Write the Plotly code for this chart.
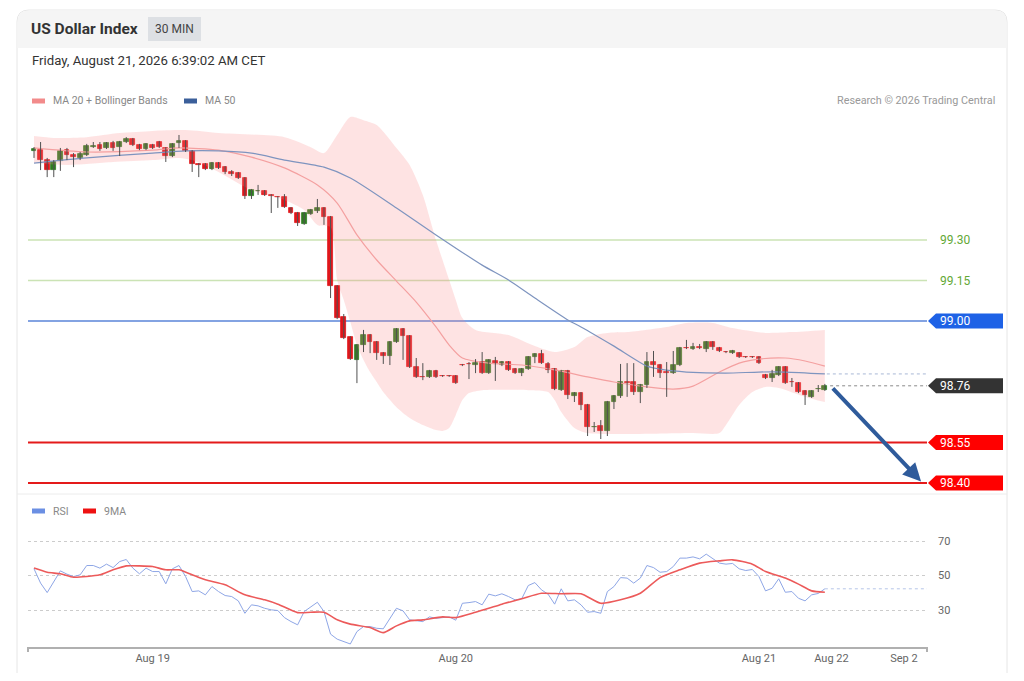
import plotly.graph_objects as go

# page adds an 8px body margin, so the figure is drawn 8px in from the window edge
PAGE_PAD = 8
W, H = 1024 - 2 * PAGE_PAD, 681 - 2 * PAGE_PAD

# ---- candle data (30 min bars) ----
opens = [99.630, 99.633, 99.596, 99.559, 99.593, 99.633, 99.615, 99.604, 99.615, 99.644,
         99.652, 99.641, 99.659, 99.644, 99.663, 99.674, 99.652, 99.637, 99.652, 99.663,
         99.641, 99.611, 99.659, 99.667, 99.630, 99.581, 99.581, 99.563, 99.585, 99.570,
         99.552, 99.548, 99.530, 99.463, 99.481, 99.481, 99.467, 99.459, 99.459, 99.419,
         99.400, 99.359, 99.396, 99.407, 99.419, 99.385, 99.130, 99.015, 98.941, 98.856,
         98.911, 98.948, 98.922, 98.881, 98.870, 98.922, 98.970, 98.944, 98.830, 98.793,
         98.793, 98.815, 98.796, 98.796, 98.796, 98.837, 98.841, 98.837, 98.848, 98.807,
         98.852, 98.837, 98.848, 98.822, 98.807, 98.822, 98.867, 98.878, 98.841, 98.822,
         98.744, 98.815, 98.722, 98.733, 98.689, 98.607, 98.611, 98.593, 98.700, 98.722,
         98.774, 98.774, 98.737, 98.763, 98.848, 98.837, 98.811, 98.807, 98.837, 98.900,
         98.896, 98.904, 98.896, 98.922, 98.900, 98.885, 98.881, 98.881, 98.867, 98.867,
         98.867, 98.800, 98.789, 98.800, 98.830, 98.774, 98.770, 98.741, 98.719, 98.748,
         98.744]
highs = [99.644, 99.663, 99.604, 99.596, 99.641, 99.641, 99.622, 99.626, 99.656, 99.663,
         99.663, 99.663, 99.667, 99.667, 99.681, 99.678, 99.656, 99.659, 99.656, 99.667,
         99.644, 99.659, 99.689, 99.670, 99.633, 99.585, 99.585, 99.589, 99.589, 99.574,
         99.559, 99.552, 99.533, 99.489, 99.504, 99.485, 99.470, 99.463, 99.470, 99.422,
         99.404, 99.404, 99.415, 99.452, 99.422, 99.389, 99.133, 99.026, 98.944, 98.915,
         98.967, 98.952, 98.926, 98.885, 98.926, 98.974, 98.974, 98.948, 98.863, 98.844,
         98.819, 98.819, 98.800, 98.800, 98.800, 98.841, 98.848, 98.859, 98.885, 98.859,
         98.867, 98.852, 98.852, 98.826, 98.826, 98.870, 98.881, 98.893, 98.848, 98.826,
         98.819, 98.819, 98.737, 98.737, 98.693, 98.626, 98.633, 98.704, 98.726, 98.841,
         98.844, 98.844, 98.767, 98.885, 98.889, 98.841, 98.848, 98.889, 98.904, 98.930,
         98.919, 98.915, 98.926, 98.926, 98.904, 98.889, 98.893, 98.885, 98.870, 98.870,
         98.870, 98.804, 98.819, 98.833, 98.833, 98.789, 98.774, 98.744, 98.744, 98.763,
         98.767]
lows = [99.604, 99.559, 99.533, 99.533, 99.556, 99.596, 99.570, 99.596, 99.611, 99.641,
        99.630, 99.637, 99.630, 99.611, 99.659, 99.648, 99.633, 99.633, 99.637, 99.641,
        99.589, 99.607, 99.641, 99.626, 99.552, 99.533, 99.559, 99.559, 99.563, 99.544,
        99.537, 99.526, 99.452, 99.452, 99.467, 99.463, 99.400, 99.419, 99.419, 99.396,
        99.352, 99.356, 99.393, 99.400, 99.356, 99.085, 99.007, 98.933, 98.856, 98.770,
        98.885, 98.881, 98.856, 98.841, 98.837, 98.919, 98.856, 98.826, 98.789, 98.781,
        98.789, 98.789, 98.793, 98.793, 98.767, 98.833, 98.785, 98.807, 98.804, 98.804,
        98.778, 98.833, 98.815, 98.804, 98.796, 98.819, 98.844, 98.841, 98.807, 98.744,
        98.741, 98.711, 98.700, 98.670, 98.574, 98.589, 98.563, 98.574, 98.674, 98.715,
        98.719, 98.726, 98.696, 98.752, 98.793, 98.789, 98.719, 98.804, 98.833, 98.896,
        98.893, 98.896, 98.885, 98.893, 98.885, 98.881, 98.878, 98.863, 98.863, 98.863,
        98.841, 98.785, 98.774, 98.796, 98.767, 98.756, 98.733, 98.689, 98.715, 98.737,
        98.741]
closes = [99.637, 99.596, 99.559, 99.589, 99.630, 99.615, 99.607, 99.619, 99.648, 99.648,
          99.637, 99.659, 99.641, 99.663, 99.674, 99.652, 99.637, 99.656, 99.641, 99.644,
          99.611, 99.656, 99.667, 99.630, 99.581, 99.578, 99.563, 99.585, 99.567, 99.552,
          99.544, 99.530, 99.463, 99.485, 99.482, 99.467, 99.463, 99.458, 99.422, 99.400,
          99.363, 99.400, 99.411, 99.419, 99.385, 99.130, 99.011, 98.937, 98.859, 98.911,
          98.948, 98.922, 98.881, 98.870, 98.922, 98.970, 98.944, 98.830, 98.793, 98.792,
          98.815, 98.793, 98.795, 98.795, 98.770, 98.836, 98.840, 98.844, 98.807, 98.856,
          98.841, 98.848, 98.819, 98.807, 98.822, 98.867, 98.878, 98.844, 98.819, 98.748,
          98.815, 98.726, 98.733, 98.689, 98.607, 98.609, 98.593, 98.700, 98.722, 98.774,
          98.770, 98.737, 98.763, 98.848, 98.837, 98.807, 98.808, 98.837, 98.900, 98.899,
          98.904, 98.900, 98.922, 98.904, 98.889, 98.884, 98.889, 98.867, 98.866, 98.866,
          98.844, 98.789, 98.804, 98.830, 98.770, 98.773, 98.737, 98.726, 98.741, 98.749,
          98.760]

# ---- indicators (sampled at bar positions) ----
band_up_x = [0, 3, 8, 13, 18, 23, 28, 38, 42, 44, 46, 48, 50, 52, 55, 57, 59, 61, 63, 64,
             65, 67, 72, 76, 79, 82, 84, 87, 90, 96, 99, 103, 106, 111, 115, 120]
band_up = [99.685, 99.678, 99.681, 99.696, 99.704, 99.707, 99.696, 99.681, 99.644, 99.622,
           99.689, 99.756, 99.744, 99.726, 99.641, 99.578, 99.467, 99.300, 99.152, 99.078,
           99.011, 98.967, 98.948, 98.907, 98.885, 98.904, 98.941, 98.956, 98.959, 98.978,
           98.993, 98.993, 98.974, 98.956, 98.959, 98.967]
band_lo_x = [0, 5, 12, 18, 22, 24, 28, 33, 38, 41, 43, 45, 46, 47, 48, 49, 50, 51, 52, 53,
             55, 57, 59, 61, 62, 63, 64, 65, 66, 68, 75, 78, 79, 80, 82, 84, 100, 104, 105, 107,
             109, 111, 113, 117, 120]
band_lo = [99.585, 99.578, 99.589, 99.596, 99.604, 99.596, 99.552, 99.485, 99.448, 99.411,
           99.356, 99.348, 99.152, 99.078, 98.996, 98.911, 98.856, 98.811, 98.774, 98.737,
           98.681, 98.641, 98.615, 98.596, 98.593, 98.604, 98.652, 98.707, 98.733, 98.744,
           98.744, 98.737, 98.707, 98.663, 98.604, 98.585, 98.585, 98.585, 98.615, 98.689,
           98.737, 98.756, 98.752, 98.719, 98.700]
ma20_x = [0, 8, 18, 22, 28, 33, 38, 43, 46, 49, 52, 55, 58, 61, 63, 65, 69, 74, 79, 84,
          88, 93, 97, 100, 104, 107, 110, 114, 117, 120]
ma20 = [99.641, 99.626, 99.633, 99.641, 99.633, 99.607, 99.567, 99.504, 99.437, 99.319,
        99.226, 99.148, 99.070, 98.978, 98.911, 98.863, 98.844, 98.837, 98.819, 98.793,
        98.774, 98.756, 98.748, 98.759, 98.811, 98.844, 98.859, 98.863, 98.852, 98.833]
ma50_x = [0, 8, 18, 23, 28, 33, 38, 44, 48, 55, 61, 68, 72, 76, 81, 83, 88, 93, 95, 97,
          99, 105, 110, 114, 120]
ma50 = [99.585, 99.604, 99.622, 99.630, 99.630, 99.622, 99.596, 99.570, 99.530, 99.419,
        99.319, 99.207, 99.152, 99.085, 99.004, 98.978, 98.907, 98.833, 98.822, 98.815,
        98.811, 98.807, 98.811, 98.811, 98.804]

rsi_x = list(range(0, 58)) + [59, 60, 61] + list(range(63, 121))
rsi = [53.9, 45.6, 40.1, 46.5, 52.7, 50.8, 49.4, 50.4, 55.8, 55.8,
       54.3, 56.6, 54.6, 58.1, 59.3, 54.3, 51.0, 54.3, 52.3, 52.3,
       45.2, 53.9, 55.8, 49.4, 40.7, 41.1, 38.8, 43.6, 40.7, 38.4,
       37.8, 35.3, 28.1, 33.0, 32.4, 31.0, 30.1, 29.7, 25.6, 23.3,
       21.4, 29.1, 32.0, 34.5, 29.1, 16.0, 13.1, 11.7, 10.3, 17.5,
       20.4, 20.4, 19.4, 19.1, 25.2, 31.0, 29.5, 24.3,
       23.3, 26.0, 25.2,
       26.0, 24.1, 33.9, 34.3, 34.9, 33.0, 39.2, 38.2,
       39.4, 37.8, 35.9, 36.5, 44.2, 45.9, 41.7, 39.2, 33.4, 42.3,
       35.3, 35.9, 33.0, 28.7, 29.1, 28.1, 40.7, 43.6, 48.8, 48.5,
       45.6, 48.5, 55.8, 54.6, 51.9, 52.3, 55.2, 60.1, 60.1, 60.8,
       59.7, 62.4, 59.7, 57.2, 56.6, 57.0, 53.9, 52.9, 53.5, 49.4,
       41.1, 42.6, 48.1, 40.3, 40.7, 36.8, 35.3, 38.8, 39.6, 42.3]
ma9_x = [0, 2, 4, 6, 8, 10, 12, 14, 16, 18, 20, 22, 24, 26, 29, 32, 35, 37, 40, 42,
         44, 46, 48, 51, 53, 55, 57, 59, 62, 64, 67, 69, 71, 74, 77, 80, 83, 86, 89, 92,
         95, 98, 101, 104, 106, 109, 111, 114, 116, 118, 120]
ma9 = [54.3, 51.9, 51.0, 49.0, 49.4, 50.4, 53.3, 55.6, 55.6, 55.2,
       53.3, 53.3, 50.4, 47.5, 44.6, 38.8, 35.9, 33.4, 28.5, 28.7,
       28.7, 24.3, 21.8, 19.8, 16.9, 20.8, 23.7, 24.3, 26.0, 25.6,
       28.7, 31.0, 33.4, 36.5, 39.7, 39.4, 39.4, 33.9, 35.9, 39.7,
       48.8, 53.3, 57.2, 58.5, 59.1, 56.6, 52.3, 48.5, 45.0, 41.1, 40.3]

# key levels
resist_levels = [99.30, 99.15]
pivot_level = 99.00
support_levels = [98.55, 98.40]

tick_pos = [18, 64, 110, 121, 132]
tick_text = ["Aug 19", "Aug 20", "Aug 21", "Aug 22", "Sep 2"]

FONT = "Roboto, Arial, sans-serif"
GREEN_C = "#2f7d22"
RED_C = "#e0161b"


# positions below are given in window pixels
def px(x):
    return (x - PAGE_PAD) / W


def py(y):
    return 1 - (y - PAGE_PAD) / H


bars = list(range(len(opens)))
body_colors = [GREEN_C if c >= o else RED_C for o, c in zip(opens, closes)]

wick_x, wick_y = [], []
for i, lo, hi in zip(bars, lows, highs):
    wick_x += [i, i, None]
    wick_y += [lo, hi, None]

fig = go.Figure()

# Bollinger bands
fig.add_trace(go.Scatter(x=band_lo_x, y=band_lo, mode="lines", line=dict(width=0, shape="spline", smoothing=0.7),
                         hoverinfo="skip"))
fig.add_trace(go.Scatter(x=band_up_x, y=band_up, mode="lines", line=dict(width=0, shape="spline", smoothing=0.7),
                         fill="tonexty", fillcolor="rgba(250,140,140,0.24)", hoverinfo="skip"))
fig.add_trace(go.Scatter(x=ma20_x, y=ma20, mode="lines",
                         line=dict(color="#f4a0a0", width=1.2, shape="spline", smoothing=0.7)))
fig.add_trace(go.Scatter(x=ma50_x, y=ma50, mode="lines",
                         line=dict(color="#7e94bf", width=1.2, shape="spline", smoothing=0.7)))

# candles: wicks then bodies
fig.add_trace(go.Scatter(x=wick_x, y=wick_y, mode="lines", line=dict(color="#505050", width=1),
                         hoverinfo="skip"))
fig.add_trace(go.Bar(x=bars, y=[c - o for o, c in zip(opens, closes)], base=opens, width=0.72,
                     marker=dict(color=body_colors, line=dict(color=body_colors, width=0.8))))

# RSI pane
fig.add_trace(go.Scatter(x=rsi_x, y=rsi, mode="lines", line=dict(color="#8ea6e6", width=1),
                         xaxis="x2", yaxis="y2"))
fig.add_trace(go.Scatter(x=ma9_x, y=ma9, mode="lines",
                         line=dict(color="#ec5a5a", width=1.6, shape="spline", smoothing=0.6),
                         xaxis="x2", yaxis="y2"))

x_range = [-0.91, 135.5]
y_main = [98.3593, 99.763]
px_per_unit = (494 - 115) / (y_main[1] - y_main[0])

shapes = []
annotations = []

# card + header
shapes.append(dict(type="path", xref="paper", yref="paper", layer="below",
                   path=(f"M {px(29)},{py(10)} L {px(995)},{py(10)} Q {px(1007)},{py(10)} {px(1007)},{py(22)} "
                         f"L {px(1007)},{py(677)} L {px(17)},{py(677)} L {px(17)},{py(22)} "
                         f"Q {px(17)},{py(10)} {px(29)},{py(10)} Z"),
                   line=dict(color="#e6e6e6", width=1), fillcolor="white"))
shapes.append(dict(type="path", xref="paper", yref="paper", layer="below",
                   path=(f"M {px(29)},{py(10.5)} L {px(995)},{py(10.5)} Q {px(1006.5)},{py(10.5)} {px(1006.5)},{py(22)} "
                         f"L {px(1006.5)},{py(48)} L {px(17.5)},{py(48)} L {px(17.5)},{py(22)} "
                         f"Q {px(17.5)},{py(10.5)} {px(29)},{py(10.5)} Z"),
                   line=dict(width=0), fillcolor="#f5f5f5"))
shapes.append(dict(type="rect", xref="paper", yref="paper", x0=px(148), x1=px(201), y0=py(41), y1=py(17),
                   line=dict(width=0), fillcolor="#dde0e4", layer="below"))
shapes.append(dict(type="line", xref="paper", yref="paper", x0=px(17), x1=px(1007), y0=py(494), y1=py(494),
                   line=dict(color="#ececec", width=1)))

# legend swatches
for x0, y0, col in [(32, 101, "#f28b8b"), (184, 101, "#3b5f9a"), (32, 511, "#6b8fe3"), (83, 511, "#ee1111")]:
    shapes.append(dict(type="rect", xref="paper", yref="paper", x0=px(x0), x1=px(x0 + 13),
                       y0=py(y0 + 2.5), y1=py(y0 - 2.5), line=dict(width=0), fillcolor=col))

# level lines
for lv in resist_levels:
    shapes.append(dict(type="line", xref="x domain", yref="y", x0=0, x1=1, y0=lv, y1=lv,
                       line=dict(color="#cbe3b5", width=1.5), layer="below"))
shapes.append(dict(type="line", xref="x domain", yref="y", x0=0, x1=1, y0=pivot_level, y1=pivot_level,
                   line=dict(color="#5a84d8", width=1.5), layer="below"))
for lv in support_levels:
    shapes.append(dict(type="line", xref="x domain", yref="y", x0=0, x1=1, y0=lv, y1=lv,
                       line=dict(color="#e41a1a", width=2), layer="below"))

# dotted extensions of last values
shapes.append(dict(type="line", xref="x", yref="y", x0=bars[-1] + 0.8, x1=x_range[1], y0=closes[-1], y1=closes[-1],
                   line=dict(color="#8a8a8a", width=1, dash="dot")))
shapes.append(dict(type="line", xref="x", yref="y", x0=ma50_x[-1] + 0.3, x1=x_range[1], y0=ma50[-1], y1=ma50[-1],
                   line=dict(color="#a9b8d6", width=1, dash="dot")))
shapes.append(dict(type="line", xref="x2", yref="y2", x0=rsi_x[-1], x1=x_range[1], y0=rsi[-1], y1=rsi[-1],
                   line=dict(color="#b6c5e8", width=1, dash="dot")))

# axis end ticks
for xe in (28, 927):
    shapes.append(dict(type="line", xref="paper", yref="paper", x0=px(xe), x1=px(xe), y0=py(647), y1=py(652),
                       line=dict(color="#b0b0b0", width=2)))


def tag(value, color):
    h = 7.5 / px_per_unit
    shapes.append(dict(type="path", xref="paper", yref="y",
                       path=(f"M {px(928)},{value} L {px(936)},{value + h} L {px(1003)},{value + h} "
                             f"L {px(1003)},{value - h} L {px(936)},{value - h} Z"),
                       line=dict(width=0), fillcolor=color))
    annotations.append(dict(xref="paper", yref="y", x=px(938), y=value, text=f"{value:.2f}", showarrow=False,
                            xanchor="left", yanchor="middle", font=dict(color="white", size=12, family=FONT)))


for lv in resist_levels:
    annotations.append(dict(xref="paper", yref="y", x=px(938), y=lv, text=f"{lv:.2f}", showarrow=False,
                            xanchor="left", yanchor="middle", font=dict(color="#63a835", size=12, family=FONT)))
tag(pivot_level, "#1e62e6")
tag(closes[-1], "#333333")
for lv in support_levels:
    tag(lv, "#ff0000")

# forecast arrow
annotations.append(dict(x=134.6, y=support_levels[1] + 0.006, ax=bars[-1] + 1, ay=closes[-1] - 0.004,
                        xref="x", yref="y", axref="x", ayref="y", text="", showarrow=True,
                        arrowhead=2, arrowsize=0.9, arrowwidth=4, arrowcolor="#2f5b9b"))


# texts
def label(x, y, text, size, color, anchor="left", bold=False):
    annotations.append(dict(xref="paper", yref="paper", x=px(x), y=py(y), showarrow=False,
                            text=f"<b>{text}</b>" if bold else text, xanchor=anchor, yanchor="middle",
                            font=dict(size=size, color=color, family=FONT)))


label(29, 29, "US Dollar Index", 15.5, "#333333", bold=True)
label(174.5, 29, "30 MIN", 12, "#444444", anchor="center")
label(30, 61, "Friday, August 21, 2026 6:39:02 AM CET", 13.2, "#333333")
label(51, 101, "MA 20 + Bollinger Bands", 10.5, "#888888")
label(203, 101, "MA 50", 10.5, "#888888")
label(997, 101, "Research © 2026 Trading Central", 10.8, "#999999", anchor="right")
label(51, 511, "RSI", 10.5, "#888888")
label(102, 511, "9MA", 10.5, "#888888")

fig.update_layout(
    width=W, height=H,
    margin=dict(l=0, r=0, t=0, b=0),
    paper_bgcolor="white", plot_bgcolor="rgba(0,0,0,0)",
    showlegend=False, bargap=0,
    font=dict(family=FONT, color="#666666", size=11),
    xaxis=dict(domain=[px(28), px(927)], range=x_range, anchor="y", showticklabels=False,
               showgrid=False, zeroline=False, showline=False),
    yaxis=dict(domain=[py(494), py(115)], range=y_main, anchor="x", showticklabels=False,
               showgrid=False, zeroline=False, showline=False),
    xaxis2=dict(domain=[px(28), px(927)], range=x_range, anchor="y2", matches="x",
                tickvals=tick_pos, ticktext=tick_text, ticks="", showgrid=False, zeroline=False,
                showline=True, linecolor="#b0b0b0", linewidth=2,
                tickfont=dict(size=11, color="#666666")),
    yaxis2=dict(domain=[py(647), py(520)], range=[8.55, 82.2], anchor="x2", side="right",
                tickvals=[30, 50, 70], showgrid=True, gridcolor="#cccccc", griddash="dot",
                zeroline=False, showline=False, ticks="", ticklabelstandoff=10,
                tickfont=dict(size=11, color="#666666")),
    shapes=shapes,
    annotations=annotations,
)

fig.write_html("out.html")
